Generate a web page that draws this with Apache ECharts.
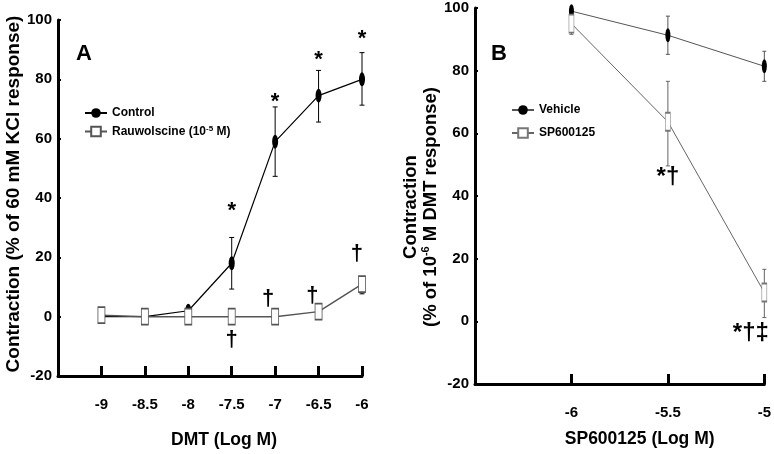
<!DOCTYPE html>
<html><head><meta charset="utf-8">
<script src="https://cdn.jsdelivr.net/npm/echarts@6/dist/echarts.min.js"></script>
<style>html,body{margin:0;padding:0;background:#fff}#c{width:774px;height:454px}</style>
</head><body><div id="c"></div>
<script>
// ---------- Panel A data ----------
const doseA = [-9, -8.5, -8, -7.5, -7, -6.5, -6];
const controlMean = [0, 0, 2, 18, 59, 74.5, 80];
const controlLow  = [0, 0, 2, 9.3, 47.3, 65.6, 71.3];
const controlHigh = [0, 0, 2, 26.7, 70.7, 83, 89];
const rauwMean = [0.5, 0, 0, 0, 0, 1.7, 11];
const rauwLow  = [0.5, 0, 0, 0, 0, 1.7, 7.7];
const rauwHigh = [0.5, 0, 0, 0, 0, 1.7, 13];
const annotA = [[-7.5, 35.5, '*'], [-7, 72.5, '*'], [-6.5, 86.5, '*'], [-6, 93.5, '*'],
                [-7.5, -8, '†'], [-7.08, 6, '†'], [-6.57, 7, '†'], [-6.06, 21, '†']];
const xTicksA = [-9.5, -6, 0.5];   // min, max, interval
const yTicks = [-20, 100, 20];

// ---------- Panel B data ----------
const doseB = [-6, -5.5, -5];
const vehMean = [99, 91.3, 81.4];
const vehLow  = [99, 85.2, 76.6];
const vehHigh = [99, 97.4, 86.2];
const spMean = [95, 63.7, 9.2];
const spLow  = [91.6, 49.6, 1.2];
const spHigh = [95, 76.6, 16.6];
const annotB = [[-5.5, 46, '*†'], [-5.07, -4, '*†‡']];
const xTicksB = [-6.5, -5, 0.5];

const FONT = 'Liberation Sans, Arial, sans-serif';

function pts(xs, ys) { return xs.map((x, i) => [x, ys[i]]); }
function errData(xs, lo, hi) { return xs.map((x, i) => [x, lo[i], hi[i]]); }

function errSeries(name, idx, data, color, cap) {
  return {
    type: 'custom', name: name, xAxisIndex: idx, yAxisIndex: idx, silent: true,
    renderItem: function (params, api) {
      const x = api.value(0);
      const lo = api.coord([x, api.value(1)]);
      const hi = api.coord([x, api.value(2)]);
      const st = { stroke: color, lineWidth: 1 };
      return { type: 'group', children: [
        { type: 'line', shape: { x1: lo[0], y1: lo[1], x2: hi[0], y2: hi[1] }, style: st },
        { type: 'line', shape: { x1: lo[0] - cap, y1: lo[1], x2: lo[0] + cap, y2: lo[1] }, style: st },
        { type: 'line', shape: { x1: hi[0] - cap, y1: hi[1], x2: hi[0] + cap, y2: hi[1] }, style: st }
      ]};
    },
    data: data, z: 2
  };
}

function annotSeries(idx, arr, size) {
  return {
    type: 'custom', xAxisIndex: idx, yAxisIndex: idx, silent: true,
    renderItem: function (params, api) {
      const p = api.coord([api.value(0), api.value(1)]);
      return { type: 'text', x: p[0], y: p[1], z2: 10,
        style: { text: arr[params.dataIndex][2], fill: '#000', align: 'center', verticalAlign: 'middle',
                 font: 'bold ' + size + 'px ' + FONT } };
    },
    data: arr.map(a => [a[0], a[1]]), z: 6
  };
}

function xAxis(idx, t, name, pad, gap, margin) {
  return {
    type: 'value', gridIndex: idx, min: t[0], max: t[1], interval: t[2],
    splitLine: { show: false },
    axisLine: { show: true, onZero: false, lineStyle: { color: '#000', width: 3 } },
    axisTick: { show: true, inside: true, length: 10, lineStyle: { color: '#000', width: 3 } },
    axisLabel: { fontFamily: FONT, fontWeight: 'bold', fontSize: 15, color: '#000', margin: margin,
                 formatter: v => (Math.abs(v - t[0]) < 1e-9 ? '' : String(v)) },
    name: name, nameLocation: 'middle', nameGap: gap,
    nameTextStyle: { fontFamily: FONT, fontWeight: 'bold', fontSize: 17.5, color: '#000', padding: [0, 0, 0, pad] }
  };
}
function yAxis(idx, name, gap, size, padding, rich) {
  return {
    type: 'value', gridIndex: idx, min: yTicks[0], max: yTicks[1], interval: yTicks[2],
    splitLine: { show: false },
    axisLine: { show: true, lineStyle: { color: '#000', width: 3 } },
    axisTick: { show: true, inside: true, length: 3, lineStyle: { color: '#000', width: 2 } },
    axisLabel: { fontFamily: FONT, fontWeight: 'bold', fontSize: 15, color: '#000', margin: 6 },
    name: name, nameLocation: 'middle', nameGap: gap,
    nameTextStyle: Object.assign({ fontFamily: FONT, fontWeight: 'bold', fontSize: size, color: '#000', padding: padding },
                                 rich ? { rich: rich } : {})
  };
}

const chart = echarts.init(document.getElementById('c'), null, { renderer: 'canvas' });
const option = {
  animation: false,
  backgroundColor: '#fff',
  grid: [
    { left: 58, top: 20, width: 304, height: 360 },
    { left: 475, top: 8, width: 291, height: 376 }
  ],
  xAxis: [xAxis(0, xTicksA, 'DMT (Log M)', 28, 55, 21), xAxis(1, xTicksB, 'SP600125 (Log M)', 40, 46, 21)],
  yAxis: [
    yAxis(0, 'Contraction (% of 60 mM KCl response)', 35, 19, [0, 0, 0, 8]),
    yAxis(1, '{b|Contraction}\n{b|(% of 10}{s|-6}{b| M DMT response)}', 34, 18.5, [0, 22, 0, 0],
      { b: { fontFamily: FONT, fontWeight: 'bold', fontSize: 18.5, color: '#000', lineHeight: 20 },
        s: { fontFamily: FONT, fontWeight: 'bold', fontSize: 11, color: '#000', verticalAlign: 'top', lineHeight: 20, padding: [0, 0, 7, 0] } })
  ],
  title: [
    { text: 'A', left: 71, top: 38, textStyle: { fontFamily: FONT, fontWeight: 'bold', fontSize: 22, color: '#000' } },
    { text: 'B', left: 486, top: 38, textStyle: { fontFamily: FONT, fontWeight: 'bold', fontSize: 22, color: '#000' } }
  ],
  legend: [
    { left: 79, top: 102, orient: 'vertical', itemGap: 6, itemWidth: 22, itemHeight: 12, selectedMode: false,
      data: ['Control', 'Rauwolscine'],
      formatter: n => n === 'Rauwolscine' ? '{n|Rauwolscine (10}{s|-5}{n| M)}' : '{n|' + n + '}',
      textStyle: { rich: { n: { fontFamily: FONT, fontWeight: 'bold', fontSize: 12, color: '#000' },
                           s: { fontFamily: FONT, fontWeight: 'bold', fontSize: 8, color: '#000', verticalAlign: 'top', padding: [0, 0, 5, 0] } } } },
    { left: 506, top: 99, orient: 'vertical', itemGap: 11, itemWidth: 22, itemHeight: 12, selectedMode: false,
      data: ['Vehicle', 'SP600125'],
      textStyle: { fontFamily: FONT, fontWeight: 'bold', fontSize: 12, color: '#000' } }
  ],
  series: [
    errSeries('errC', 0, errData(doseA, controlLow, controlHigh), '#000', 2.5),
    { type: 'line', name: 'Control', xAxisIndex: 0, yAxisIndex: 0, data: pts(doseA, controlMean),
      symbol: 'circle', symbolSize: [6, 14], itemStyle: { color: '#000' },
      lineStyle: { color: '#000', width: 1.2 }, z: 3 },
    errSeries('errR', 0, errData(doseA, rauwLow, rauwHigh), '#000', 2.5),
    { type: 'line', name: 'Rauwolscine', xAxisIndex: 0, yAxisIndex: 0, data: pts(doseA, rauwMean),
      symbol: 'rect', symbolSize: [7, 16], itemStyle: { color: '#fff', borderColor: '#555', borderWidth: 1.2 },
      lineStyle: { color: '#555', width: 1.5 }, z: 4 },
    annotSeries(0, annotA, 22),
    errSeries('errV', 1, errData(doseB, vehLow, vehHigh), '#555', 2),
    { type: 'line', name: 'Vehicle', xAxisIndex: 1, yAxisIndex: 1, data: pts(doseB, vehMean),
      symbol: 'circle', symbolSize: [5, 14], itemStyle: { color: '#000' },
      lineStyle: { color: '#555', width: 1 }, z: 3 },
    errSeries('errS', 1, errData(doseB, spLow, spHigh), '#666', 2),
    { type: 'line', name: 'SP600125', xAxisIndex: 1, yAxisIndex: 1, data: pts(doseB, spMean),
      symbol: 'rect', symbolSize: [5, 18], itemStyle: { color: '#fff', borderColor: '#777', borderWidth: 1 },
      lineStyle: { color: '#666', width: 1 }, z: 4 },
    annotSeries(1, annotB, 24)
  ]
};
chart.setOption(option);
</script></body></html>
